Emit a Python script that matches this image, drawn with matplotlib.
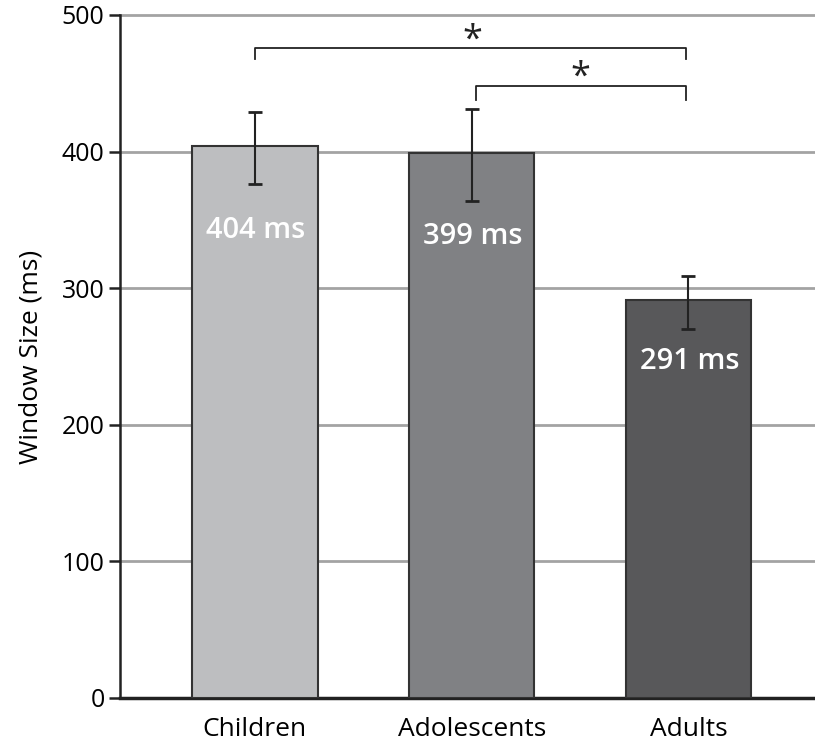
import matplotlib
matplotlib.use("Agg")
import matplotlib.pyplot as plt

categories = ["Children", "Adolescents", "Adults"]
values = [404, 399, 291]
err_low = [376, 364, 270]
err_high = [429, 431, 309]
value_labels = ["404 ms", "399 ms", "291 ms"]
yticks = [0, 100, 200, 300, 400, 500]

colors = ["#BDBEC0", "#808184", "#58585A"]
label_y = [342, 338, 246]

plt.rcParams['font.family'] = ['Open Sans', 'DejaVu Sans']

fig = plt.figure(figsize=(8.15, 7.47), dpi=100)
ax = fig.add_axes([0.147, 0.0656, 0.853, 0.9144])

x = list(range(len(categories)))
ax.bar(x, values, width=0.58, color=colors, edgecolor="#333333", linewidth=1.5, zorder=3)
yerr = [[v - l for v, l in zip(values, err_low)], [h - v for v, h in zip(values, err_high)]]
ax.errorbar(x, values, yerr=yerr, fmt='none', ecolor="#222222", elinewidth=1.5,
            capsize=5, capthick=2, zorder=4)

for xi, t, yy in zip(x, value_labels, label_y):
    ax.text(xi + 0.005, yy, t, color="white", fontsize=21, fontweight="semibold",
            ha="center", va="center", zorder=5)

# significance brackets
ax.plot([0, 0, 1.99, 1.99], [468, 476, 476, 468], color="#222222", lw=1.3, zorder=4)
ax.plot([1.02, 1.02, 1.99, 1.99], [438, 448, 448, 438], color="#222222", lw=1.3, zorder=4)
ax.text(1.005, 481, "*", fontsize=26, ha="center", va="center", color="#222222")
ax.text(1.5, 454, "*", fontsize=26, ha="center", va="center", color="#222222")

ax.set_xlim(-0.623, 2.584)
ax.set_ylim(0, 500)
ax.set_yticks(yticks)
ax.set_yticklabels([str(t) for t in yticks], fontsize=18)
ax.set_xticks(x)
ax.set_xticklabels(categories, fontsize=19)
ax.tick_params(axis='x', length=0, pad=14)
ax.tick_params(axis='y', length=8, width=1.8, color="#222222", pad=3)

for yt in yticks[1:]:
    ax.axhline(yt, color="#A3A3A3", lw=2, zorder=1, clip_on=False)

ax.spines['top'].set_visible(False)
ax.spines['right'].set_visible(False)
ax.spines['left'].set_color("#222222")
ax.spines['left'].set_linewidth(1.8)
ax.spines['bottom'].set_color("#222222")
ax.spines['bottom'].set_linewidth(2.5)
ax.set_ylabel("Window Size (ms)", fontsize=19, labelpad=13)

fig.savefig("out.png", dpi=100)
